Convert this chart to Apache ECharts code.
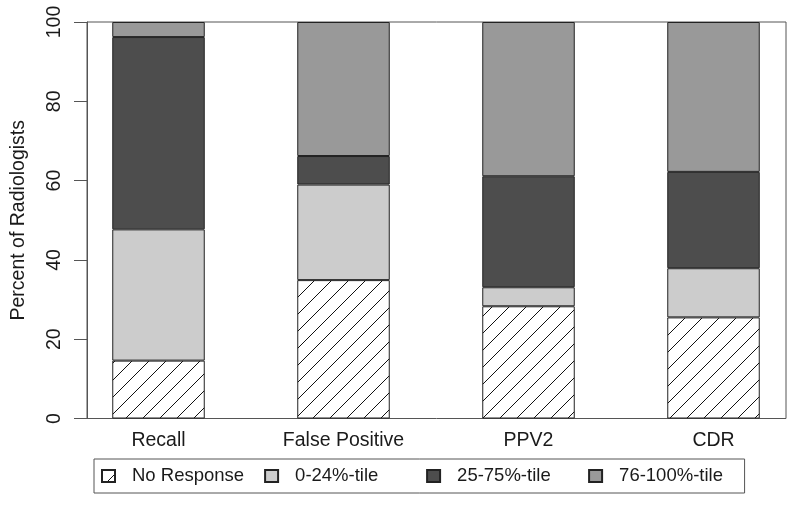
<!DOCTYPE html>
<html>
<head>
<meta charset="utf-8">
<script src="https://cdn.jsdelivr.net/npm/echarts@6/dist/echarts.min.js"></script>
<style>
html,body{margin:0;padding:0;background:#fff;}
#chart{width:800px;height:507px;}
</style>
</head>
<body>
<div id="chart"></div>
<script>
// ---- data ----
const categories = ['Recall', 'False Positive', 'PPV2', 'CDR'];
const seriesNames = ['No Response', '0-24%-tile', '25-75%-tile', '76-100%-tile'];
const noResponse = [14.6, 34.9, 28.3, 25.5];
const pct0to24 = [33.1, 24.1, 4.8, 12.4];
const pct25to75 = [48.5, 7.2, 28.0, 24.3];
const pct76to100 = [3.8, 33.8, 38.9, 37.8];
const yTicks = [0, 20, 40, 60, 80, 100];

// hatch pattern for "No Response"
function makeHatch(size) {
  const cv = document.createElement('canvas');
  cv.width = size; cv.height = size;
  const ctx = cv.getContext('2d');
  ctx.fillStyle = '#ffffff';
  ctx.fillRect(0, 0, size, size);
  ctx.strokeStyle = '#111111';
  ctx.lineWidth = 1;
  ctx.beginPath();
  ctx.moveTo(-2, size + 2); ctx.lineTo(size + 2, -2);
  ctx.moveTo(-2, 2); ctx.lineTo(2, -2);
  ctx.moveTo(size - 2, size + 2); ctx.lineTo(size + 2, size - 2);
  ctx.stroke();
  return cv;
}
const hatch = { image: makeHatch(17), repeat: 'repeat' };

const fills = [hatch, '#cccccc', '#4d4d4d', '#999999'];
const values = [noResponse, pct0to24, pct25to75, pct76to100];

const chart = echarts.init(document.getElementById('chart'), null, { renderer: 'canvas' });

const textColor = '#1a1a1a';
const fontFamily = '"Liberation Sans", Arial, Helvetica, sans-serif';
const frameColor = '#555555';

chart.setOption({
  animation: false,
  backgroundColor: '#ffffff',
  grid: [
    // bar layout grid (R barplot, space = 1): band of two bar widths per category
    { left: 66, right: -6, top: 22, bottom: 88.5, show: false, outerBoundsMode: 'none', containLabel: false },
    // plot frame grid
    { left: 87, right: 14, top: 22, bottom: 88.5, show: true, outerBoundsMode: 'none', containLabel: false,
      borderColor: frameColor, borderWidth: 1, backgroundColor: 'transparent' }
  ],
  xAxis: [
    {
      gridIndex: 0,
      type: 'category',
      data: categories,
      axisLine: { show: false },
      axisTick: { show: false },
      splitLine: { show: false },
      axisLabel: { color: textColor, fontSize: 19.5, fontFamily: fontFamily, margin: 12, interval: 0 }
    },
    {
      gridIndex: 1, type: 'value', min: 0, max: 1, show: false
    }
  ],
  yAxis: [
    {
      gridIndex: 0, type: 'value', min: yTicks[0], max: yTicks[yTicks.length - 1], show: false
    },
    {
      gridIndex: 1,
      type: 'value',
      min: yTicks[0], max: yTicks[yTicks.length - 1], interval: 20,
      name: 'Percent of Radiologists',
      nameLocation: 'middle',
      nameRotate: 90,
      nameGap: 58.5,
      nameTextStyle: { color: textColor, fontSize: 19.5, fontFamily: fontFamily },
      axisLine: { show: true, lineStyle: { color: frameColor, width: 1 } },
      axisTick: { show: true, length: 13, lineStyle: { color: frameColor, width: 1 } },
      splitLine: { show: false },
      axisLabel: { rotate: 90, color: textColor, fontSize: 19.5, fontFamily: fontFamily, margin: 22 }
    }
  ],
  legend: {
    left: 94, top: 459,
    orient: 'horizontal',
    selectedMode: false,
    data: seriesNames,
    icon: 'rect',
    itemWidth: 13, itemHeight: 12, itemGap: 20,
    padding: [7, 14.5, 7, 7],
    borderColor: frameColor, borderWidth: 1,
    textStyle: {
      color: textColor, fontSize: 18.5, fontFamily: fontFamily,
      width: 111, padding: [0, 0, 0, 12], lineHeight: 20
    }
  },
  series: seriesNames.map((name, k) => ({
    name: name,
    type: 'bar',
    xAxisIndex: 0,
    yAxisIndex: 0,
    stack: 'total',
    barWidth: '50%',
    itemStyle: { color: fills[k], borderColor: '#222222', borderWidth: 1 },
    data: values[k]
  }))
});
</script>
</body>
</html>
